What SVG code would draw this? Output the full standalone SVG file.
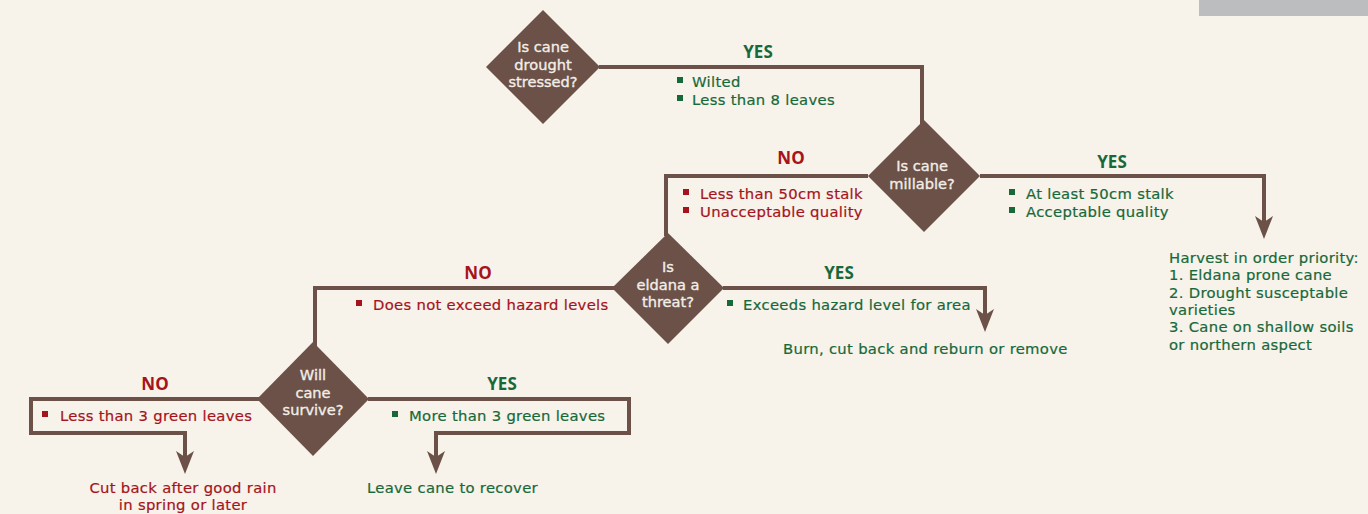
<svg xmlns="http://www.w3.org/2000/svg" width="1368" height="514" viewBox="0 0 1368 514">
<defs>
<style>
.bg{fill:#f7f2ea}
.dia{fill:#6b5148}
.ln{fill:none;stroke:#6b5148;stroke-width:4;stroke-linejoin:miter}
.q{font-family:"DejaVu Sans","Open Sans",sans-serif;font-size:14.6px;fill:#f3eee7;stroke:#f3eee7;stroke-width:0.35;text-anchor:middle}
.yes{font-family:"Open Sans","Noto Sans",sans-serif;font-size:17px;font-weight:bold;fill:#17693a;text-anchor:middle}
.no{font-family:"Open Sans","Noto Sans",sans-serif;font-size:17px;font-weight:bold;fill:#a5141c;text-anchor:middle}
.g{font-family:"DejaVu Sans","Open Sans",sans-serif;font-size:14.8px;letter-spacing:0.3px;fill:#17693a;stroke:#17693a;stroke-width:0.2}
.r{font-family:"DejaVu Sans","Open Sans",sans-serif;font-size:14.8px;letter-spacing:0.3px;fill:#a5141c;stroke:#a5141c;stroke-width:0.2}
.gb{fill:#17693a}
.rb{fill:#a5141c}
</style>
<marker id="arr" markerUnits="userSpaceOnUse" markerWidth="24" markerHeight="20" viewBox="0 0 24 20" refX="10" refY="10" orient="auto">
<path d="M0,1 L23,10 L0,19 L6,10 Z" fill="#6b5148"/>
</marker>
</defs>
<rect class="bg" x="0" y="0" width="1368" height="514"/>
<rect x="1199" y="0" width="169" height="16" fill="#bcbdbf"/>

<g id="connectors">
<polyline class="ln" points="599,67 922,67 922,124"/>
<polyline class="ln" points="868,176 666,176 666,236"/>
<polyline class="ln" points="980,176 1264,176 1264,226" marker-end="url(#arr)"/>
<polyline class="ln" points="614,288 315,288 315,346"/>
<polyline class="ln" points="723,288 985,288 985,319" marker-end="url(#arr)"/>
<polyline class="ln" points="259,399 31,399 31,433 185,433 185,461" marker-end="url(#arr)"/>
<polyline class="ln" points="368,399 629,399 629,433 436,433 436,461" marker-end="url(#arr)"/>
</g>

<g id="q1">
<polygon class="dia" points="543,10 600,67 543,124 486,67"/>
<text class="q" x="543" y="52">Is cane</text>
<text class="q" x="543" y="70">drought</text>
<text class="q" x="543" y="87">stressed?</text>
</g>
<g id="yes1">
<text class="yes" x="758" y="58">YES</text>
<rect class="gb" x="677" y="77" width="6" height="6"/>
<text class="g" x="692" y="87">Wilted</text>
<rect class="gb" x="677" y="95" width="6" height="6"/>
<text class="g" x="692" y="105">Less than 8 leaves</text>
</g>

<g id="q2">
<polygon class="dia" points="924,120 980,176 924,232 868,176"/>
<text class="q" x="922" y="171">Is cane</text>
<text class="q" x="922" y="189">millable?</text>
</g>
<g id="no2">
<text class="no" x="791" y="164">NO</text>
<rect class="rb" x="683" y="189" width="6" height="6"/>
<text class="r" x="700" y="199">Less than 50cm stalk</text>
<rect class="rb" x="683" y="207" width="6" height="6"/>
<text class="r" x="700" y="217">Unacceptable quality</text>
</g>
<g id="yes2">
<text class="yes" x="1112" y="168">YES</text>
<rect class="gb" x="1009" y="189" width="6" height="6"/>
<text class="g" x="1026" y="199">At least 50cm stalk</text>
<rect class="gb" x="1009" y="207" width="6" height="6"/>
<text class="g" x="1026" y="217">Acceptable quality</text>
</g>
<g id="harvest">
<text class="g" x="1169" y="263">Harvest in order priority:</text>
<text class="g" x="1169" y="280.3">1. Eldana prone cane</text>
<text class="g" x="1169" y="297.6">2. Drought susceptable</text>
<text class="g" x="1169" y="314.9">varieties</text>
<text class="g" x="1169" y="332.2">3. Cane on shallow soils</text>
<text class="g" x="1169" y="349.5">or northern aspect</text>
</g>

<g id="q3">
<polygon class="dia" points="668,233 724,288 668,344 612,288"/>
<text class="q" x="668" y="272">Is</text>
<text class="q" x="668" y="290">eldana a</text>
<text class="q" x="668" y="307">threat?</text>
</g>
<g id="no3">
<text class="no" x="478" y="279">NO</text>
<rect class="rb" x="356" y="300" width="6" height="6"/>
<text class="r" x="373" y="310">Does not exceed hazard levels</text>
</g>
<g id="yes3">
<text class="yes" x="839" y="279">YES</text>
<rect class="gb" x="727" y="300" width="6" height="6"/>
<text class="g" x="743" y="310">Exceeds hazard level for area</text>
<text class="g" x="783" y="354">Burn, cut back and reburn or remove</text>
</g>

<g id="q4">
<polygon class="dia" points="313,342 369,399 313,456 257,399"/>
<text class="q" x="313" y="380">Will</text>
<text class="q" x="313" y="398">cane</text>
<text class="q" x="313" y="415">survive?</text>
</g>
<g id="no4">
<text class="no" x="155" y="390">NO</text>
<rect class="rb" x="42" y="411" width="6" height="6"/>
<text class="r" x="60" y="421">Less than 3 green leaves</text>
<text class="r" x="183" y="492.5" text-anchor="middle">Cut back after good rain</text>
<text class="r" x="183" y="510" text-anchor="middle">in spring or later</text>
</g>
<g id="yes4">
<text class="yes" x="502" y="390">YES</text>
<rect class="gb" x="392" y="411" width="6" height="6"/>
<text class="g" x="409" y="421">More than 3 green leaves</text>
<text class="g" x="367" y="493">Leave cane to recover</text>
</g>
</svg>
